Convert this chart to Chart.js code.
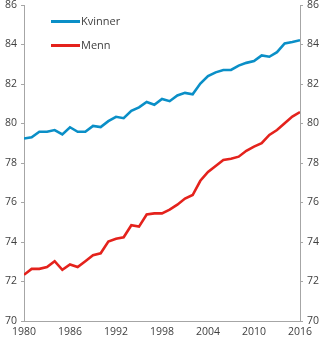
<!DOCTYPE html>
<html>
<head>
<meta charset="utf-8">
<script src="https://cdn.jsdelivr.net/npm/chart.js@4/dist/chart.umd.min.js"></script>
<style>
  html, body { margin: 0; padding: 0; background: #fff; }
  #wrap { width: 327px; height: 339px; }
</style>
</head>
<body>
<div id="wrap"><canvas id="lifeChart" width="327" height="339"></canvas></div>
<script>
var years = [1980, 1981, 1982, 1983, 1984, 1985, 1986, 1987, 1988, 1989,
             1990, 1991, 1992, 1993, 1994, 1995, 1996, 1997, 1998, 1999,
             2000, 2001, 2002, 2003, 2004, 2005, 2006, 2007, 2008, 2009,
             2010, 2011, 2012, 2013, 2014, 2015, 2016];
var kvinner = [79.24, 79.30, 79.58, 79.58, 79.67, 79.45, 79.81, 79.58, 79.58, 79.88,
               79.82, 80.12, 80.34, 80.27, 80.64, 80.82, 81.09, 80.95, 81.24, 81.13,
               81.42, 81.55, 81.48, 82.02, 82.40, 82.59, 82.71, 82.71, 82.93, 83.07,
               83.16, 83.45, 83.38, 83.61, 84.05, 84.13, 84.22];
var menn = [72.34, 72.64, 72.64, 72.73, 73.03, 72.59, 72.86, 72.73, 73.03, 73.33,
            73.43, 74.02, 74.16, 74.24, 74.85, 74.78, 75.39, 75.45, 75.45, 75.64,
            75.89, 76.20, 76.38, 77.10, 77.55, 77.85, 78.15, 78.22, 78.32, 78.62,
            78.83, 79.00, 79.42, 79.67, 80.01, 80.35, 80.58];
var seriesLabels = ['Kvinner', 'Menn'];
var xTicks = [1980, 1986, 1992, 1998, 2004, 2010, 2016];
var yTicks = [70, 72, 74, 76, 78, 80, 82, 84, 86];

var textColor = '#404040';
var axisColor = '#a6a6a6';
var tickFont = { family: 'Open Sans', size: 10.5 };

function toPoints(vals) {
    return years.map(function (y, i) { return { x: y, y: vals[i] }; });
}

// legend drawn inside the plot, top left
var innerLegend = {
    id: 'innerLegend',
    afterDraw: function (chart) {
        var ctx = chart.ctx;
        ctx.save();
        ctx.font = '11px "Open Sans"';
        ctx.textBaseline = 'middle';
        chart.data.datasets.forEach(function (ds, i) {
            var y = 21.5 + i * 24;
            ctx.strokeStyle = ds.borderColor;
            ctx.lineWidth = 3;
            ctx.beginPath();
            ctx.moveTo(51, y);
            ctx.lineTo(80, y);
            ctx.stroke();
            ctx.fillStyle = textColor;
            ctx.fillText(ds.label, 81, y);
        });
        ctx.restore();
    }
};

function yScale(pos, width) {
    return {
        type: 'linear',
        position: pos,
        min: yTicks[0],
        max: yTicks[yTicks.length - 1],
        afterBuildTicks: function (s) { s.ticks = yTicks.map(function (v) { return { value: v }; }); },
        grid: { drawOnChartArea: false, drawTicks: true, tickLength: 3, color: axisColor },
        border: { display: true, color: axisColor, width: 1 },
        ticks: { color: textColor, font: tickFont, padding: 4 },
        afterFit: function (s) { s.width = width; s.paddingTop = 0; s.paddingBottom = 0; }
    };
}

new Chart(document.getElementById('lifeChart'), {
    type: 'line',
    data: {
        datasets: [
            {
                label: seriesLabels[0],
                data: toPoints(kvinner),
                borderColor: '#0a8fc7',
                borderWidth: 2.6,
                pointRadius: 0,
                tension: 0,
                fill: false
            },
            {
                label: seriesLabels[1],
                data: toPoints(menn),
                borderColor: '#e4221c',
                borderWidth: 2.6,
                pointRadius: 0,
                tension: 0,
                fill: false
            }
        ]
    },
    options: {
        responsive: false,
        animation: false,
        layout: { padding: { top: 5, left: 0, right: 0, bottom: 0 } },
        plugins: { legend: { display: false }, tooltip: { enabled: false } },
        scales: {
            x: {
                type: 'linear',
                min: years[0],
                max: years[years.length - 1],
                afterBuildTicks: function (s) { s.ticks = xTicks.map(function (v) { return { value: v }; }); },
                grid: { display: false, drawTicks: false },
                border: { display: true, color: axisColor, width: 1 },
                ticks: {
                    color: textColor,
                    font: tickFont,
                    padding: 5,
                    maxRotation: 0,
                    callback: function (v) { return String(v); }
                },
                afterFit: function (s) { s.height = 18; s.paddingLeft = 0; s.paddingRight = 0; }
            },
            y: yScale('left', 24),
            y2: yScale('right', 27)
        }
    },
    plugins: [innerLegend]
});
</script>
</body>
</html>
